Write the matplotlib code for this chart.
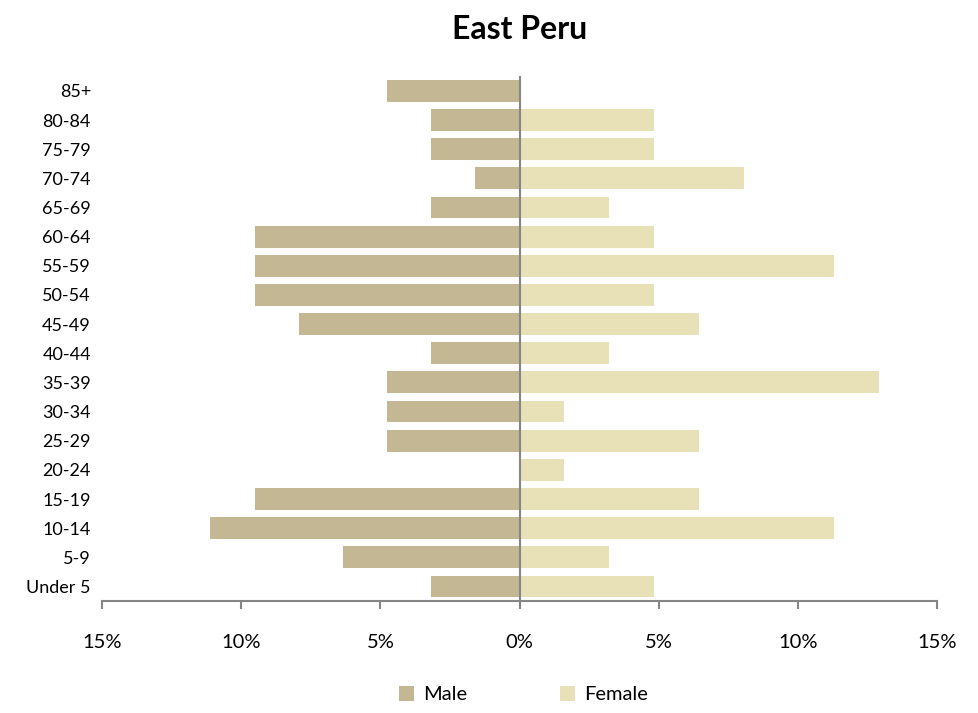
import numpy as np
import matplotlib.pyplot as plt
from matplotlib.ticker import FuncFormatter

plt.rcParams['font.family'] = ['Lato', 'DejaVu Sans']

# age groups, bottom to top
ages = ['Under 5', '5-9', '10-14', '15-19', '20-24', '25-29', '30-34', '35-39', '40-44',
        '45-49', '50-54', '55-59', '60-64', '65-69', '70-74', '75-79', '80-84', '85+']
# percentages
male = [3.17, 6.35, 11.11, 9.52, 0.0, 4.76, 4.76, 4.76, 3.17,
        7.94, 9.52, 9.52, 9.52, 3.17, 1.59, 3.17, 3.17, 4.76]
female = [4.84, 3.23, 11.29, 6.45, 1.61, 6.45, 1.61, 12.90, 3.23,
          6.45, 4.84, 11.29, 4.84, 3.23, 8.06, 4.84, 4.84, 0.0]

male_col = '#C4B794'
female_col = '#E8E1B7'
axis_col = '#868686'

fig = plt.figure(figsize=(9.79, 7.13), dpi=100)
ax = fig.add_axes([0.1042, 0.157, 0.853, 0.736])

y = np.arange(len(ages))
ax.barh(y, -np.array(male), height=0.75, color=male_col, label='Male')
ax.barh(y, female, height=0.75, color=female_col, label='Female')

ax.set_xlim(-15, 15)
ax.set_ylim(-0.5, len(ages) - 0.5)
ax.set_yticks(y)
ax.set_yticklabels(ages, fontsize=13)
ax.tick_params(axis='y', length=0, pad=8)
ax.set_xticks([-15, -10, -5, 0, 5, 10, 15])
ax.xaxis.set_major_formatter(FuncFormatter(lambda v, p: '%d%%' % abs(v)))
ax.tick_params(axis='x', labelsize=14.5, length=6, width=1.5, color=axis_col, pad=18)

for s in ['top', 'right', 'left']:
    ax.spines[s].set_visible(False)
ax.spines['bottom'].set_color(axis_col)
ax.spines['bottom'].set_linewidth(1.5)
ax.axvline(0, color=axis_col, lw=1.5)

ax.set_title('East Peru', fontsize=23, fontweight='bold', pad=27)

fig.legend(loc='lower center', bbox_to_anchor=(0.535, -0.012), ncol=2, frameon=False,
           fontsize=14.5, handlelength=0.75, handleheight=0.75, columnspacing=4.6, handletextpad=0.45)

plt.savefig('out.png')
